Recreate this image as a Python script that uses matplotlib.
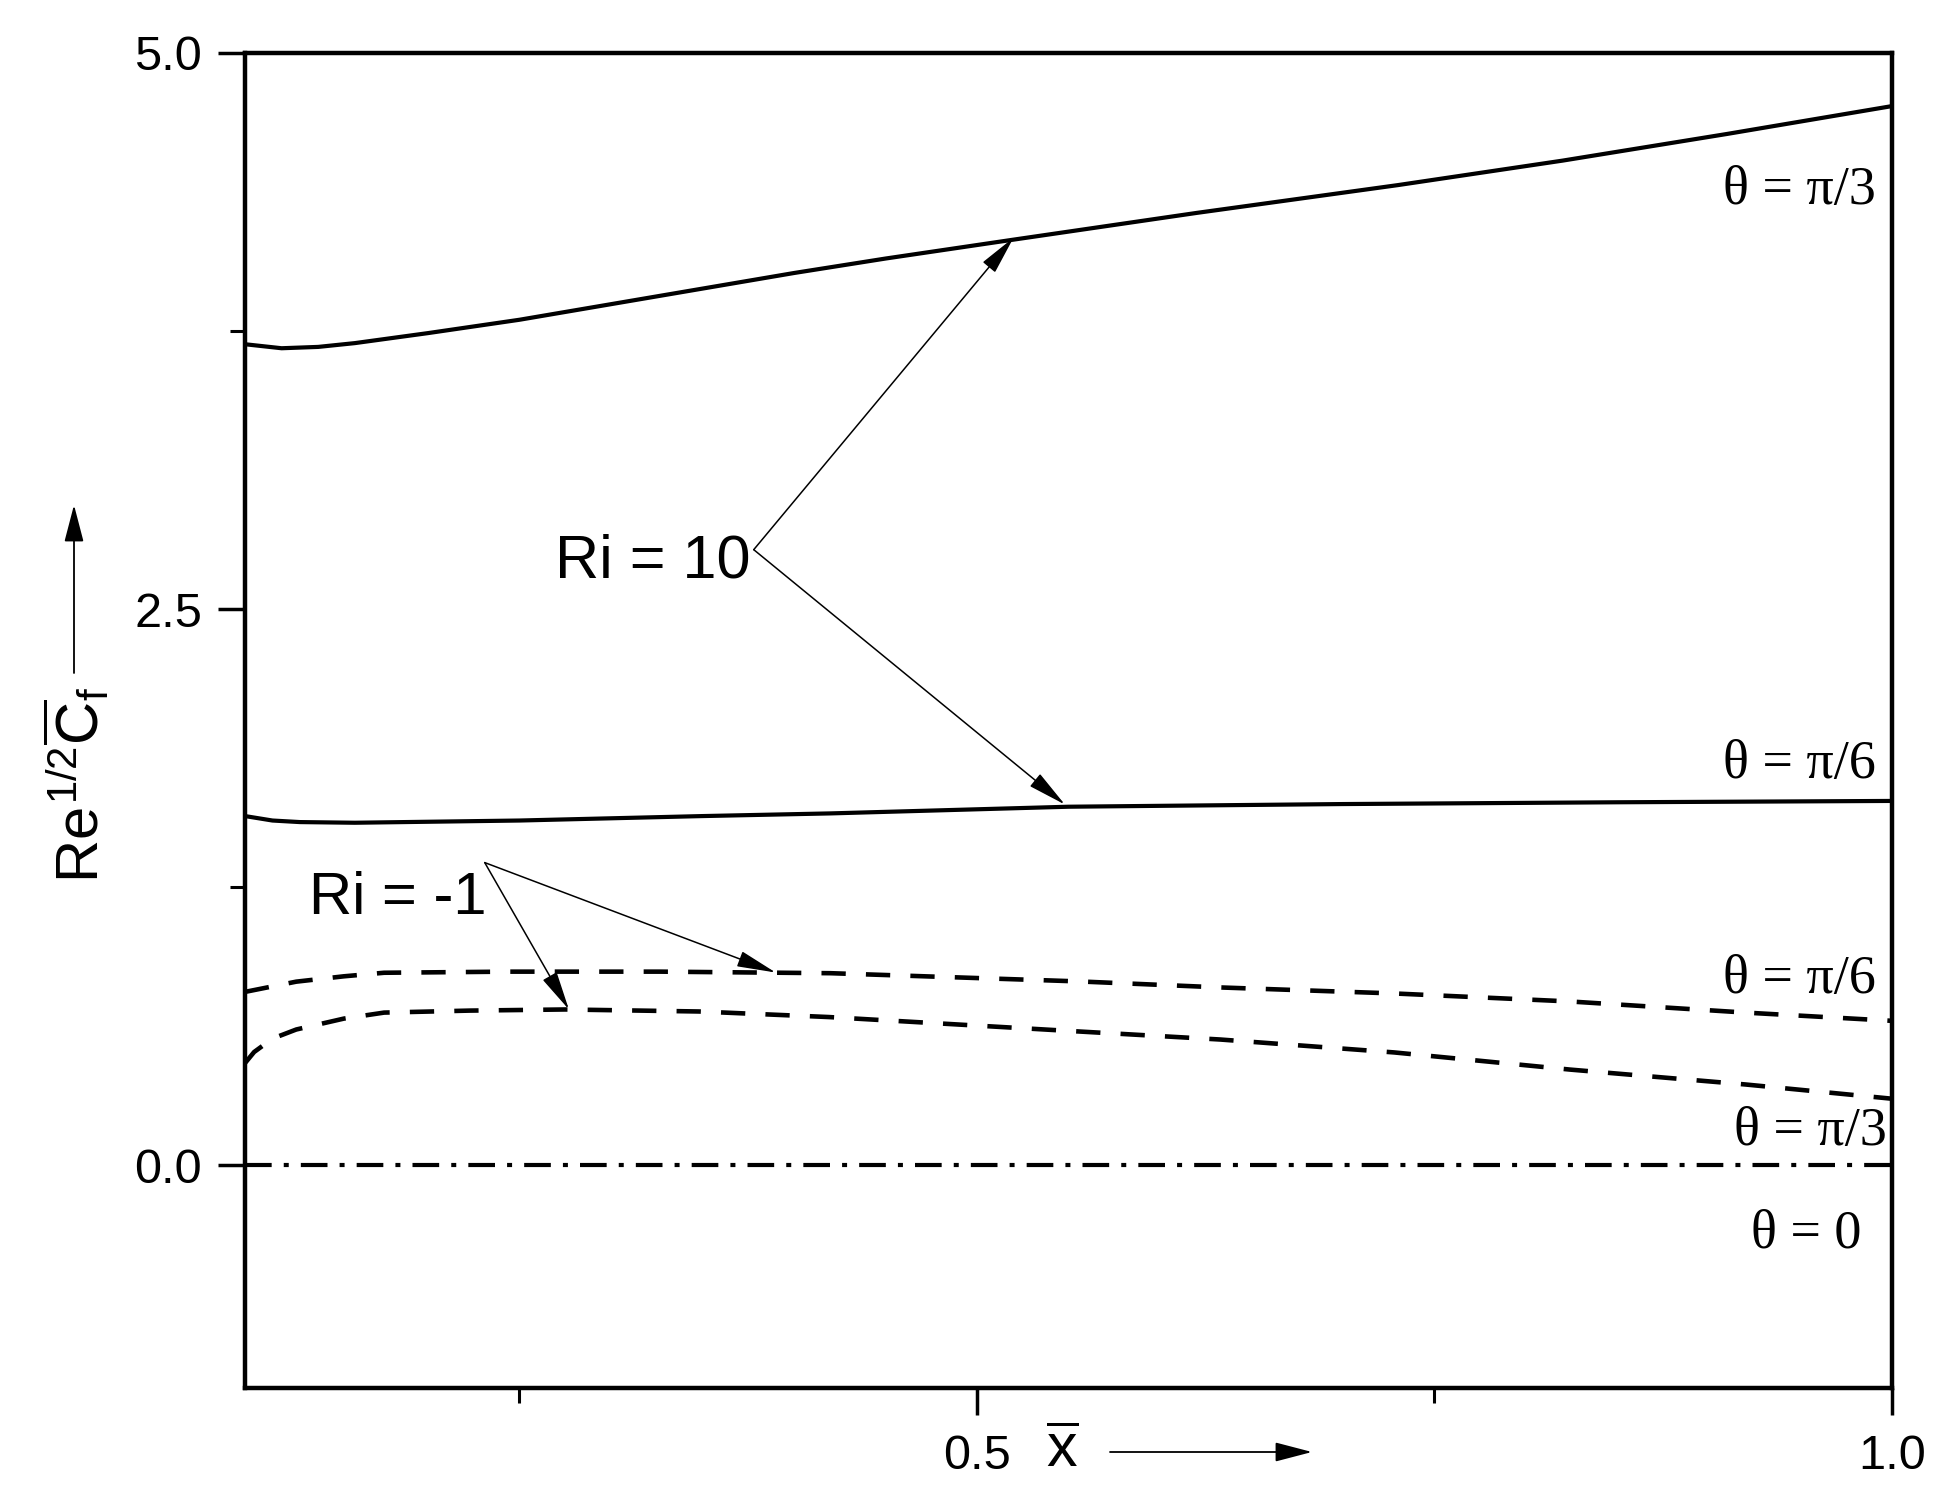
import matplotlib.pyplot as plt

plt.rcParams['font.family'] = 'Liberation Sans'
plt.rcParams['mathtext.fontset'] = 'custom'
plt.rcParams['mathtext.rm'] = 'Liberation Sans'
plt.rcParams['mathtext.it'] = 'Liberation Sans'
plt.rcParams['mathtext.bf'] = 'Liberation Sans:bold'

# Ri = 10, theta = pi/3 (solid)
x_ri10_pi3 = [0.10, 0.12, 0.14, 0.16, 0.20, 0.25, 0.30, 0.35, 0.40, 0.45, 0.52,
              0.62, 0.73, 0.82, 0.91, 1.0]
y_ri10_pi3 = [3.69, 3.672, 3.678, 3.695, 3.74, 3.80, 3.87, 3.94, 4.01, 4.075, 4.16,
              4.28, 4.405, 4.515, 4.635, 4.76]

# Ri = 10, theta = pi/6 (solid)
x_ri10_pi6 = [0.10, 0.115, 0.13, 0.16, 0.25, 0.35, 0.42, 0.55, 0.70, 0.85, 1.0]
y_ri10_pi6 = [1.57, 1.55, 1.543, 1.54, 1.55, 1.57, 1.582, 1.612, 1.624, 1.632, 1.638]

# Ri = -1, theta = pi/6 (dashed)
x_rim1_pi6 = [0.10, 0.128, 0.154, 0.176, 0.244, 0.327, 0.42, 0.556, 0.633, 0.728, 0.824, 0.92, 1.0]
y_rim1_pi6 = [0.78, 0.826, 0.850, 0.866, 0.871, 0.871, 0.864, 0.827, 0.80, 0.773, 0.737, 0.687, 0.65]

# Ri = -1, theta = pi/3 (dashed)
x_rim1_pi3 = [0.10, 0.105, 0.115, 0.128, 0.154, 0.176, 0.223, 0.275, 0.348, 0.419,
              0.556, 0.633, 0.728, 0.824, 0.92, 1.0]
y_rim1_pi3 = [0.46, 0.51, 0.57, 0.611, 0.660, 0.687, 0.696, 0.701, 0.692, 0.667,
              0.602, 0.566, 0.508, 0.431, 0.364, 0.30]

# theta = 0 (dash-dot)
x_theta0 = [0.1, 1.0]
y_theta0 = [0.0, 0.0]

# annotation anchors (data coords)
ri10_origin = (0.378, 2.767)
ri10_tips = [(0.520, 4.169), (0.548, 1.622)]
rim1_origin = (0.231, 1.361)
rim1_tips = [(0.390, 0.867), (0.277, 0.701)]

fig = plt.figure(figsize=(19.6, 15.05), dpi=100)
ax = fig.add_axes([0.125, 0.0777, 0.8403, 0.8873])

lw = 3.0
dash_lw = 3.3
ax.plot(x_ri10_pi3, y_ri10_pi3, color='k', lw=lw)
ax.plot(x_ri10_pi6, y_ri10_pi6, color='k', lw=lw)
ax.plot(x_rim1_pi6, y_rim1_pi6, color='k', lw=dash_lw, linestyle=(0, (5.3, 4.4)))
ax.plot(x_rim1_pi3, y_rim1_pi3, color='k', lw=dash_lw, linestyle=(0, (5.3, 4.4)))
ax.plot(x_theta0, y_theta0, color='k', lw=lw, linestyle=(0, (6.4, 2.9, 1.2, 2.9)))

ax.set_xlim(0.1, 1.0)
ax.set_ylim(-1, 5)
ax.set_xticks([0.5, 1.0])
ax.set_xticklabels(['0.5', '1.0'])
ax.set_xticks([0.25, 0.75], minor=True)
ax.set_yticks([0.0, 2.5, 5.0])
ax.set_yticklabels(['0.0', '2.5', '5.0'])
ax.set_yticks([1.25, 3.75], minor=True)
ax.tick_params(which='major', direction='out', length=19.5, width=2.5, labelsize=35)
ax.tick_params(which='minor', direction='out', length=10.8, width=2.2)
ax.tick_params(axis='y', which='major', pad=11.5)
ax.tick_params(axis='x', which='major', pad=13.7)
for sp in ax.spines.values():
    sp.set_linewidth(3.2)

# arrows and labels
aprops = dict(arrowstyle='-|>,head_length=1.22,head_width=0.25', color='k',
              lw=1.1, mutation_scale=20, shrinkA=0, shrinkB=0)
for tip in ri10_tips:
    ax.annotate('', xy=tip, xytext=ri10_origin, arrowprops=aprops)
for tip in rim1_tips:
    ax.annotate('', xy=tip, xytext=rim1_origin, arrowprops=aprops)
ax.text(0.376, 2.641, 'Ri = 10', fontsize=44, ha='right', va='baseline')
ax.text(0.232, 1.128, 'Ri = -1', fontsize=43, ha='right', va='baseline')

serif = 'Liberation Serif'
ax.text(0.991, 4.32, 'θ = π/3', family=serif, fontsize=39, ha='right', va='baseline')
ax.text(0.991, 1.739, 'θ = π/6', family=serif, fontsize=39, ha='right', va='baseline')
ax.text(0.991, 0.773, 'θ = π/6', family=serif, fontsize=39, ha='right', va='baseline')
ax.text(0.997, 0.094, 'θ = π/3', family=serif, fontsize=39, ha='right', va='baseline')
ax.text(0.983, -0.368, 'θ = 0', family=serif, fontsize=39, ha='right', va='baseline')

# axis labels with direction arrows
fig.text(77 / 1960, 1 - 785 / 1505, r'$Re^{1/2}\overline{C}_f$', fontsize=43,
         rotation=90, ha='center', va='center')
fig.text(1062 / 1960, 1 - 1467 / 1505, r'$\overline{x}$', fontsize=44,
         ha='center', va='baseline')
lprops = dict(arrowstyle='-|>,head_length=1.15,head_width=0.3', color='k',
              lw=1.3, mutation_scale=20, shrinkA=0, shrinkB=0)
ax.annotate('', xy=(74 / 1960, 1 - 505 / 1505), xytext=(74 / 1960, 1 - 673 / 1505),
            xycoords='figure fraction', textcoords='figure fraction', arrowprops=lprops)
ax.annotate('', xy=(1312 / 1960, 1 - 1452 / 1505), xytext=(1110 / 1960, 1 - 1452 / 1505),
            xycoords='figure fraction', textcoords='figure fraction', arrowprops=lprops)

fig.savefig('out.png', dpi=100)
